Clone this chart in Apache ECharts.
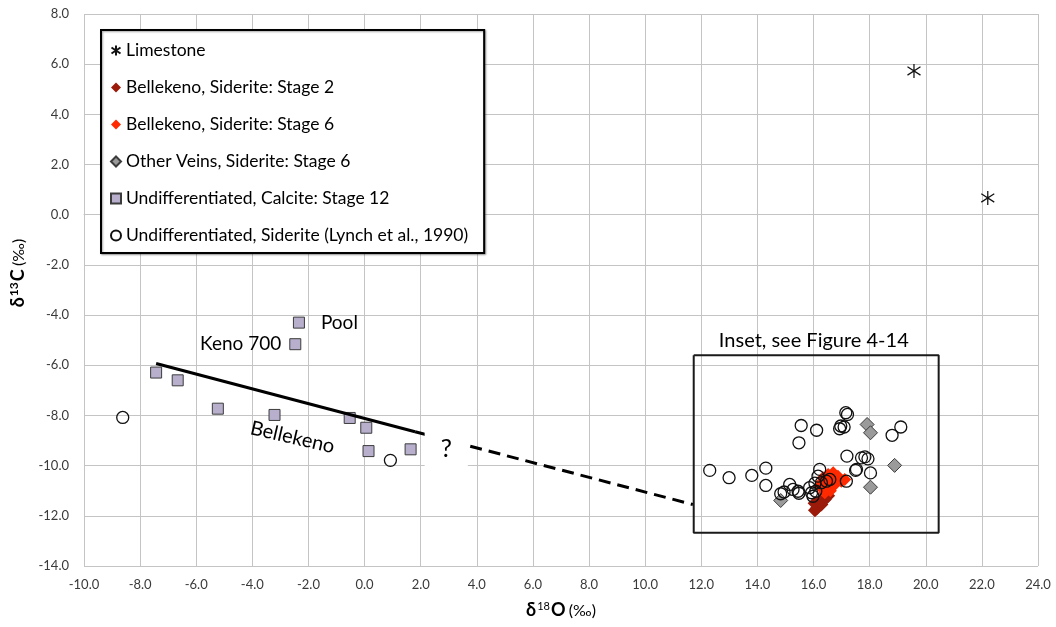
<!DOCTYPE html>
<html>
<head>
<meta charset="utf-8">
<script src="https://cdn.jsdelivr.net/npm/echarts@6/dist/echarts.min.js"></script>
<style>
html, body { margin: 0; padding: 0; background: #fff; }
#main { width: 1056px; height: 627px; }
</style>
</head>
<body>
<div id="main"></div>
<script>
// axis ticks
var xTicks = { min: -10, max: 24, step: 2 };
var yTicks = { min: -14, max: 8, step: 2 };

// Limestone
var limeX = [19.58, 22.21];
var limeY = [5.73, 0.67];

// Bellekeno, Siderite: Stage 2
var st2X = [16.05, 16.12, 16.28, 16.40, 16.52, 16.04, 16.22];
var st2Y = [-11.78, -11.70, -11.55, -11.35, -11.20, -11.50, -11.42];

// Bellekeno, Siderite: Stage 6
var st6X = [16.34, 16.52, 16.70, 16.87, 16.99, 17.11, 16.52, 16.76, 16.22, 16.40, 16.60, 16.45, 16.30, 16.62];
var st6Y = [-10.48, -10.35, -10.28, -10.42, -10.62, -10.55, -10.82, -10.75, -10.82, -11.08, -11.00, -10.95, -10.65, -10.58];

// Other Veins, Siderite: Stage 6
var veinX = [14.83, 17.91, 18.03, 18.89, 18.03];
var veinY = [-11.39, -8.36, -8.69, -9.99, -10.86];

// Undifferentiated, Calcite: Stage 12
var calX = [-7.43, -6.66, -5.23, -3.21, -2.34, -2.47, -0.53, 0.06, 0.14, 1.64];
var calY = [-6.29, -6.60, -7.73, -7.98, -4.30, -5.16, -8.10, -8.49, -9.42, -9.35];
var calNames = ['', '', '', '', 'Pool', 'Keno 700', '', '', '', ''];

// Undifferentiated, Siderite (Lynch et al., 1990)
var lynX = [-8.62, 0.92, 12.30, 12.99, 13.80, 14.30, 14.30, 14.83, 14.95, 15.15,
    15.27, 15.45, 15.48, 15.56, 15.48, 16.11, 17.15, 17.21, 16.97, 17.09,
    16.93, 17.19, 17.71, 17.83, 17.94, 17.50, 18.03, 17.17, 19.11, 18.80,
    15.86, 15.93, 15.98, 16.08, 16.22, 16.16, 16.28, 16.46, 16.58, 16.05, 17.53];
var lynY = [-8.08, -9.79, -10.19, -10.48, -10.39, -10.10, -10.79, -11.12, -11.05, -10.75,
    -10.95, -11.02, -11.10, -8.40, -9.09, -8.59, -7.89, -7.96, -8.42, -8.46,
    -8.53, -9.62, -9.69, -9.65, -9.73, -10.19, -10.29, -10.62, -8.46, -8.79,
    -10.88, -11.08, -11.22, -11.02, -10.15, -10.42, -10.68, -10.62, -10.55, -10.70, -10.15];

// drawn trend line (solid part, then dashed part)
var trendX = [-7.43, 1.80];
var trendY = [-5.93, -8.65];
var dashX = [1.80, 11.70];
var dashY = [-8.65, -11.55];

// inset box corners
var boxX = [11.73, 20.46, 20.46, 11.73, 11.73];
var boxY = [-5.60, -5.60, -12.67, -12.67, -5.60];

// free text notes
var noteText = ['Bellekeno', '?', 'Inset, see Figure 4-14'];
var noteX = [-2.57, 2.91, 16.01];
var noteY = [-8.87, -9.35, -5.03];

var FONT = 'Lato';

function pts(xs, ys) {
    return xs.map(function (x, i) { return [x, ys[i]]; });
}

var calData = pts(calX, calY).map(function (p, i) {
    var n = calNames[i];
    if (!n) return p;
    return {
        value: p,
        label: {
            show: true,
            formatter: n,
            position: n === 'Pool' ? 'right' : 'left',
            distance: n === 'Pool' ? 16 : 8,
            fontFamily: FONT,
            fontSize: 19,
            color: '#000'
        }
    };
});

var noteData = noteText.map(function (t, i) {
    var lab = { show: true, position: 'inside', formatter: t, fontFamily: FONT, color: '#000' };
    if (t === 'Bellekeno') {
        lab.fontSize = 20;
        lab.rotate = -13;
    } else if (t === '?') {
        lab.fontSize = 25;
        lab.backgroundColor = '#fff';
        lab.padding = [8, 16, 5, 16];
    } else {
        lab.fontSize = 20;
    }
    return { value: [noteX[i], noteY[i]], label: lab };
});

var chartDom = document.getElementById('main');
var myChart = echarts.init(chartDom);

var gridColor = '#c4c4c4';
var legendNames = [
    'Limestone',
    'Bellekeno, Siderite: Stage 2',
    'Bellekeno, Siderite: Stage 6',
    'Other Veins, Siderite: Stage 6',
    'Undifferentiated, Calcite: Stage 12',
    'Undifferentiated, Siderite (Lynch et al., 1990)'
];

var option = {
    animation: false,
    backgroundColor: '#fff',
    grid: { left: 84, right: 18, top: 14, bottom: 61 },
    legend: {
        data: legendNames,
        orient: 'vertical',
        left: 101,
        top: 30,
        itemWidth: 10,
        itemHeight: 10,
        itemGap: 18,
        padding: [11, 16, 8, 9],
        backgroundColor: '#fff',
        borderColor: '#000',
        borderWidth: 2,
        shadowColor: 'rgba(0,0,0,0.35)',
        shadowBlur: 2,
        shadowOffsetX: 1,
        shadowOffsetY: 1,
        textStyle: { fontFamily: FONT, fontSize: 17.5, lineHeight: 19, color: '#000' }
    },
    xAxis: {
        type: 'value',
        min: xTicks.min,
        max: xTicks.max,
        interval: xTicks.step,
        name: '{b|δ}{s|18}{b|O} {n|(‰)}',
        nameLocation: 'middle',
        nameGap: 35,
        nameTextStyle: {
            rich: {
                b: { fontFamily: FONT, fontSize: 18, fontWeight: 'bold', color: '#000' },
                s: { fontFamily: FONT, fontSize: 11, color: '#000', padding: [0, 1, 8, 1] },
                n: { fontFamily: FONT, fontSize: 16, color: '#000' }
            }
        },
        axisLine: { show: true, lineStyle: { color: gridColor } },
        axisTick: { show: false },
        splitLine: { show: true, lineStyle: { color: gridColor } },
        axisLabel: {
            fontFamily: FONT, fontSize: 13, color: '#3a3a3a', margin: 12,
            formatter: function (v) { return v.toFixed(1); }
        }
    },
    yAxis: {
        type: 'value',
        min: yTicks.min,
        max: yTicks.max,
        interval: yTicks.step,
        name: '{b|δ}{s|13}{b|C} {n|(‰)}',
        nameLocation: 'middle',
        nameGap: 52,
        nameTextStyle: {
            padding: [0, 0, 0, 34],
            rich: {
                b: { fontFamily: FONT, fontSize: 18, fontWeight: 'bold', color: '#000' },
                s: { fontFamily: FONT, fontSize: 12, fontWeight: 'bold', color: '#000', padding: [0, 1, 8, 1] },
                n: { fontFamily: FONT, fontSize: 16, color: '#000' }
            }
        },
        axisLine: { show: true, lineStyle: { color: gridColor } },
        axisTick: { show: false },
        splitLine: { show: true, lineStyle: { color: gridColor } },
        axisLabel: {
            fontFamily: FONT, fontSize: 13, color: '#3a3a3a', margin: 15,
            formatter: function (v) { return v.toFixed(1); }
        }
    },
    series: [
        {
            name: 'Undifferentiated, Calcite: Stage 12',
            type: 'scatter',
            symbol: 'rect',
            symbolSize: 11,
            itemStyle: { color: '#b8afcd', borderColor: '#3c3c3c', borderWidth: 1, opacity: 1 },
            data: calData,
            z: 3
        },
        {
            name: 'Undifferentiated, Siderite (Lynch et al., 1990)',
            type: 'scatter',
            symbol: 'circle',
            symbolSize: 12,
            itemStyle: { color: 'rgba(255,255,255,0)', borderColor: '#111', borderWidth: 1.3, opacity: 1 },
            data: pts(lynX, lynY),
            z: 4
        },
        {
            name: 'Other Veins, Siderite: Stage 6',
            type: 'scatter',
            symbol: 'diamond',
            symbolSize: 14,
            itemStyle: { color: '#9a9a9a', borderColor: '#3c3c3c', borderWidth: 1, opacity: 1 },
            data: pts(veinX, veinY),
            z: 3
        },
        {
            name: 'Bellekeno, Siderite: Stage 2',
            type: 'scatter',
            symbol: 'diamond',
            symbolSize: 14,
            itemStyle: { color: '#9b1a0a', opacity: 1 },
            data: pts(st2X, st2Y),
            z: 3
        },
        {
            name: 'Bellekeno, Siderite: Stage 6',
            type: 'scatter',
            symbol: 'diamond',
            symbolSize: 13,
            itemStyle: { color: '#ff2a00', opacity: 1 },
            data: pts(st6X, st6Y),
            z: 3
        },
        {
            name: 'Limestone',
            type: 'scatter',
            symbol: 'path://M0,-10L0,10M-9,-6L9,6M-9,6L9,-6',
            symbolSize: [13, 14],
            itemStyle: { color: 'rgba(0,0,0,0)', borderColor: '#111', borderWidth: 1.3, opacity: 1 },
            data: pts(limeX, limeY),
            z: 3
        },
        {
            name: 'trend',
            type: 'line',
            silent: true,
            symbol: 'none',
            lineStyle: { color: '#000', width: 3 },
            data: pts(trendX, trendY),
            z: 5
        },
        {
            name: 'trendDash',
            type: 'line',
            silent: true,
            symbol: 'none',
            lineStyle: { color: '#000', width: 3, type: [12, 7] },
            data: pts(dashX, dashY),
            z: 5
        },
        {
            name: 'inset',
            type: 'line',
            silent: true,
            symbol: 'none',
            lineStyle: { color: '#1a1a1a', width: 2 },
            data: pts(boxX, boxY),
            z: 5
        },
        {
            name: 'notes',
            type: 'scatter',
            silent: true,
            symbolSize: 1,
            itemStyle: { color: 'rgba(0,0,0,0)', opacity: 1 },
            data: noteData,
            z: 6
        }
    ]
};
myChart.setOption(option);
</script>
</body>
</html>
